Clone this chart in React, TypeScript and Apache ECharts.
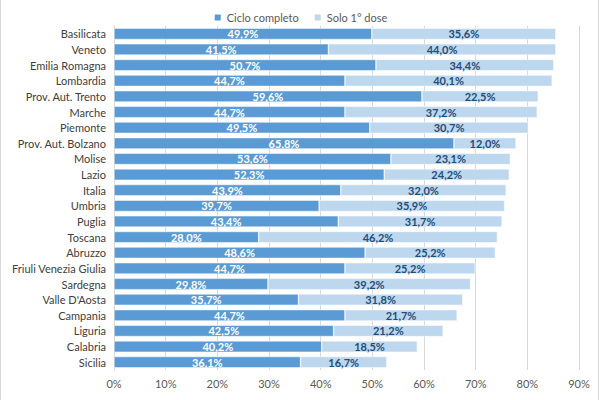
import React, { useEffect, useRef } from "react";
import * as echarts from "echarts";

const regions = [
  "Basilicata", "Veneto", "Emilia Romagna", "Lombardia", "Prov. Aut. Trento", "Marche",
  "Piemonte", "Prov. Aut. Bolzano", "Molise", "Lazio", "Italia", "Umbria", "Puglia",
  "Toscana", "Abruzzo", "Friuli Venezia Giulia", "Sardegna", "Valle D'Aosta", "Campania",
  "Liguria", "Calabria", "Sicilia",
];
const cicloCompleto = [
  49.9, 41.5, 50.7, 44.7, 59.6, 44.7, 49.5, 65.8, 53.6, 52.3, 43.9, 39.7, 43.4,
  28.0, 48.6, 44.7, 29.8, 35.7, 44.7, 42.5, 40.2, 36.1,
];
const soloPrimaDose = [
  35.6, 44.0, 34.4, 40.1, 22.5, 37.2, 30.7, 12.0, 23.1, 24.2, 32.0, 35.9, 31.7,
  46.2, 25.2, 25.2, 39.2, 31.8, 21.7, 21.2, 18.5, 16.7,
];
const seriesNames = ["Ciclo completo", "Solo 1° dose"];

const fmt = (v: number) => v.toFixed(1).replace(".", ",") + "%";
const FONT = "Lato, 'Open Sans', sans-serif";

export default function App() {
  const ref = useRef<HTMLDivElement>(null);
  useEffect(() => {
    document.body.style.margin = "0";
    const chart = echarts.init(ref.current!, null, { renderer: "svg" });
    chart.setOption({
      animation: false,
      backgroundColor: "#ffffff",
      textStyle: { fontFamily: FONT },
      legend: {
        top: 7,
        left: "center",
        itemWidth: 8,
        itemHeight: 8,
        itemGap: 14,
        icon: "rect",
        textStyle: { color: "#595959", fontSize: 11, fontFamily: FONT },
        data: seriesNames,
      },
      grid: { left: 114, right: 21, top: 26, bottom: 30, containLabel: false },
      xAxis: {
        type: "value",
        min: 0,
        max: 90,
        interval: 10,
        axisLabel: {
          color: "#595959",
          fontSize: 11,
          fontFamily: FONT,
          margin: 8,
          formatter: (v: number) => v + "%",
        },
        splitLine: { show: true, lineStyle: { color: "#d9d9d9", width: 1 } },
        axisLine: { show: false },
        axisTick: { show: false },
      },
      yAxis: {
        type: "category",
        inverse: true,
        data: regions,
        axisLabel: { color: "#404040", fontSize: 11, fontFamily: FONT, margin: 8 },
        axisLine: { show: true, lineStyle: { color: "#d9d9d9" } },
        axisTick: { show: false },
      },
      series: [
        {
          name: seriesNames[0],
          type: "bar",
          stack: "tot",
          barCategoryGap: "28%",
          data: cicloCompleto,
          itemStyle: { color: "#5b9bd5", borderColor: "#ffffff", borderWidth: 0.5 },
          label: {
            show: true,
            position: "inside",
            color: "#ffffff",
            fontSize: 11,
            fontWeight: "bold",
            fontFamily: FONT,
            textBorderWidth: 0,
            textBorderColor: "transparent",
            formatter: (p: any) => fmt(p.value),
          },
        },
        {
          name: seriesNames[1],
          type: "bar",
          stack: "tot",
          data: soloPrimaDose,
          itemStyle: { color: "#bdd7ee", borderColor: "#ffffff", borderWidth: 0.5 },
          label: {
            show: true,
            position: "inside",
            color: "#1f4e79",
            fontSize: 11,
            fontWeight: "bold",
            fontFamily: FONT,
            textBorderWidth: 0,
            textBorderColor: "transparent",
            formatter: (p: any) => fmt(p.value),
          },
        },
      ],
      graphic: [
        { type: "line", shape: { x1: 0.5, y1: 0, x2: 0.5, y2: 400 }, style: { stroke: "#d9d9d9", lineWidth: 1 } },
        { type: "line", shape: { x1: 598.5, y1: 0, x2: 598.5, y2: 400 }, style: { stroke: "#d9d9d9", lineWidth: 1 } },
      ],
    });
    return () => chart.dispose();
  }, []);
  return <div ref={ref} style={{ width: 600, height: 400 }} />;
}
